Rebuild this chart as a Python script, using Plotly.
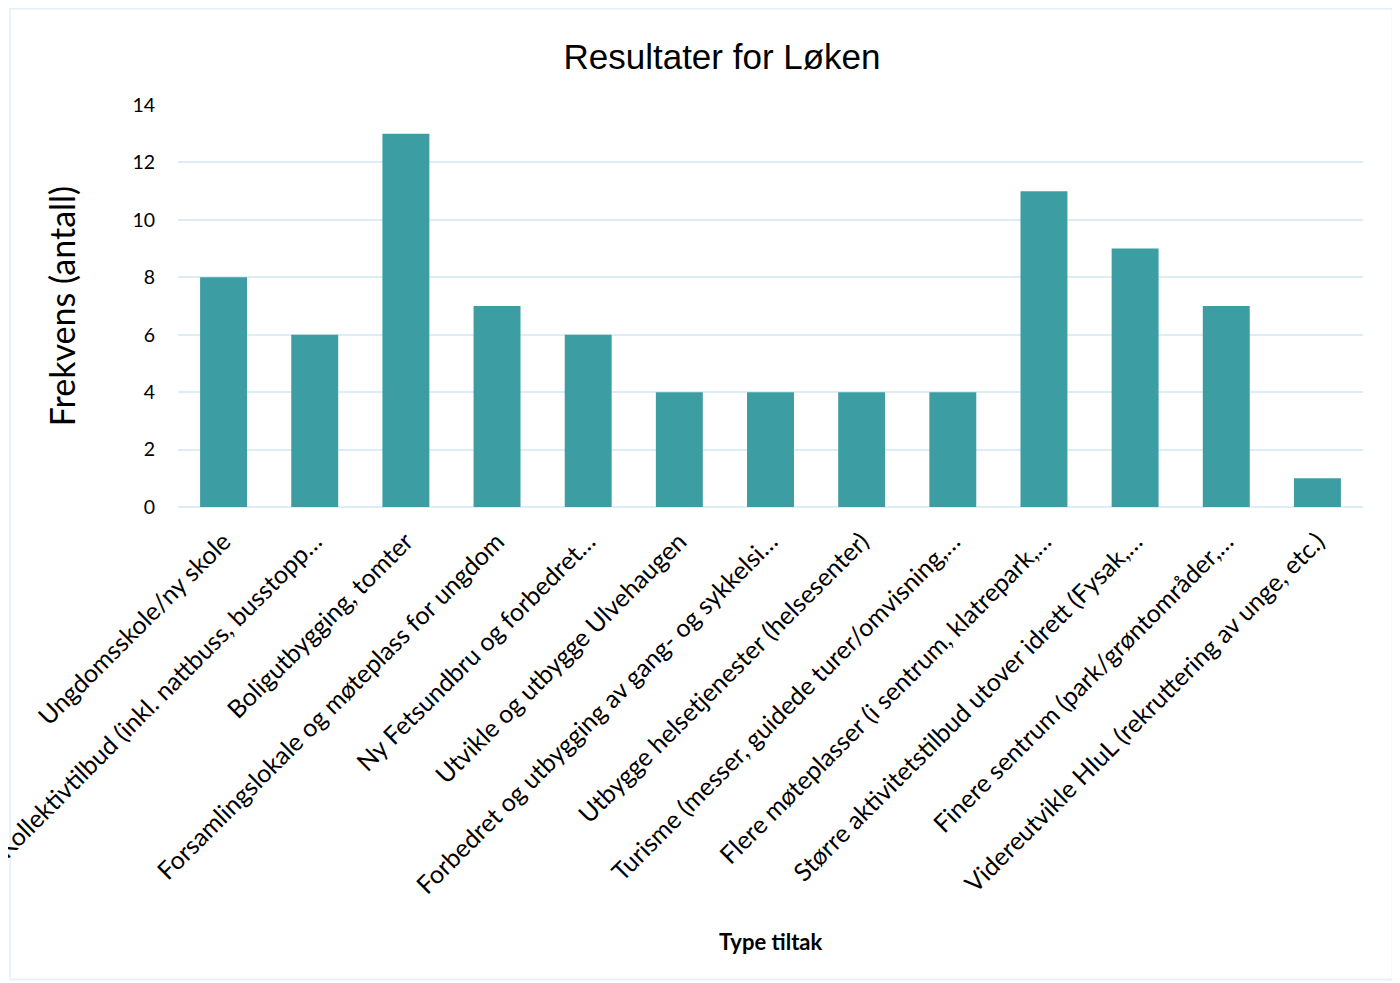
import plotly.graph_objects as go

categories = [
    "Ungdomsskole/ny skole",
    "Kollektivtilbud (inkl. nattbuss, busstopp…",
    "Boligutbygging, tomter",
    "Forsamlingslokale og møteplass for ungdom",
    "Ny Fetsundbru og forbedret…",
    "Utvikle og utbygge Ulvehaugen",
    "Forbedret og utbygging av gang- og sykkelsi…",
    "Utbygge helsetjenester (helsesenter)",
    "Turisme (messer, guidede turer/omvisning,…",
    "Flere møteplasser (i sentrum, klatrepark,…",
    "Større aktivitetstilbud utover idrett (Fysak,…",
    "Finere sentrum (park/grøntområder,…",
    "Videreutvikle HIuL (rekruttering av unge, etc.)",
]
values = [8, 6, 13, 7, 6, 4, 4, 4, 4, 11, 9, 7, 1]
y_ticks = [0, 2, 4, 6, 8, 10, 12, 14]

# page body has an 8px margin; work in screenshot pixels and shift
OFF = 8
W, H = 1400 - OFF, 983 - OFF
plot_left, plot_right, plot_top, plot_bottom = 177.5, 1363.5, 105, 507
L = plot_left - OFF
R = W - (plot_right - OFF)
T = plot_top - OFF
B = H - (plot_bottom - OFF)
pw, ph = W - L - R, H - T - B

def px_x(x):
    return (x - OFF - L) / pw

def px_y(y):
    return (H - B - (y - OFF)) / ph

fig = go.Figure()
fig.add_trace(go.Bar(
    x=categories,
    y=values,
    marker=dict(color="#3C9EA3", line=dict(width=0)),
    width=0.515,
))

fig.update_layout(
    width=W, height=H,
    margin=dict(l=L, r=R, t=T, b=B, autoexpand=False),
    paper_bgcolor="white",
    plot_bgcolor="white",
    showlegend=False,
    title=dict(
        text="Resultater for Løken",
        font=dict(family="Liberation Sans", size=35, color="#000000"),
        x=(722 - OFF) / W, xanchor="center",
        y=1 - (57 - OFF) / H, yanchor="middle",
    ),
    font=dict(family="Lato", color="#000000"),
    xaxis=dict(
        tickangle=-45,
        tickfont=dict(family="Lato", size=25, color="#000000"),
        showgrid=False,
        showline=False,
        ticks="",
        ticklabelstandoff=14,
        automargin=False,
    ),
    yaxis=dict(
        range=[0, 14],
        tickvals=y_ticks,
        tickfont=dict(family="Lato", size=19.5, color="#000000"),
        showgrid=True,
        gridcolor="#DDEDF6",
        gridwidth=1.5,
        zeroline=True,
        zerolinecolor="#DDEDF6",
        zerolinewidth=1.5,
        showline=False,
        ticks="",
        ticklabelstandoff=22,
        title=dict(text="Frekvens (antall)", font=dict(family="Lato", size=34, color="#000000"), standoff=46),
        automargin=False,
    ),
    annotations=[dict(
        text="<b>Type tiltak</b>",
        xref="paper", yref="paper",
        x=0.5, y=px_y(941),
        xanchor="center", yanchor="middle",
        showarrow=False,
        font=dict(family="Lato", size=22, color="#000000"),
    )],
    shapes=[dict(
        type="rect", xref="paper", yref="paper",
        x0=px_x(9.5), x1=px_x(1393), y0=px_y(979.5), y1=px_y(8.75),
        line=dict(color="#E2EFF7", width=1.5),
        fillcolor="rgba(0,0,0,0)", layer="below",
    )],
)

fig.write_html("out.html")
